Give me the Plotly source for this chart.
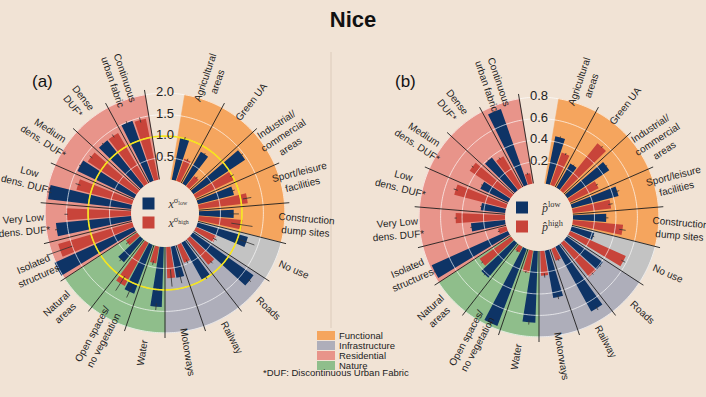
"""Nice: land-use polar bar charts, panels (a) and (b)."""

import math

import numpy as np
import plotly.graph_objects as go

W, H = 706, 397

# ---------------------------------------------------------------- data
categories = [
    "Agricultural<br>areas", "Green UA", "Industrial/<br>commercial<br>areas",
    "Sport/leisure<br>facilities", "Construction<br>dump sites", "No use",
    "Roads", "Railway", "Motorways", "Water", "Open spaces/<br>no vegetation",
    "Natural<br>areas", "Isolated<br>structures", "Very Low<br>dens. DUF*",
    "Low<br>dens. DUF*", "Medium<br>dens. DUF*", "Dense<br>DUF*",
    "Continuous<br>urban fabric",
]
groups = (["Functional"] * 5 + ["Infrastructure"] * 4
          + ["Nature"] * 3 + ["Residential"] * 6)
group_names = ["Functional", "Infrastructure", "Residential", "Nature"]

# panel (a): x^sigma_low / x^sigma_high
x_low = [1.01, 0.86, 1.45, 0.87, 0.81, 1.22, 1.73, 0.98, 0.74, 1.40, 1.22, 0.70,
         2.03, 1.76, 1.95, 1.47, 1.37, 1.49]
x_low_err = [0.03, 0.03, 0.04, 0.05, 0.12, 0.20, 0.04, 0.05, 0.15, 0.08, 0.15, 0.05,
             0.05, 0.04, 0.05, 0.03, 0.03, 0.04]
x_high = [0.55, 0.31, 0.99, 1.15, 1.02, 0.52, 0.78, 0.45, 0.73, 0.40, 1.15, 0.32,
          1.80, 1.51, 1.34, 1.37, 1.37, 1.45]
x_high_err = [0.03, 0.03, 0.05, 0.10, 0.25, 0.05, 0.04, 0.05, 0.20, 0.05, 0.20, 0.05,
              0.30, 0.04, 0.06, 0.04, 0.04, 0.06]

# panel (b): p_hat low / high
p_low = [0.45, 0.26, 0.47, 0.45, 0.31, 0.22, 0.41, 0.69, 0.45, 0.67, 0.77, 0.42,
         0.78, 0.32, 0.23, 0.29, 0.39, 0.75]
p_low_err = [0.01, 0.01, 0.01, 0.02, 0.02, 0.01, 0.01, 0.02, 0.02, 0.02, 0.02, 0.01,
             0.01, 0.01, 0.01, 0.01, 0.01, 0.01]
p_high = [0.32, 0.56, 0.30, 0.36, 0.47, 0.57, 0.41, 0.12, 0.23, 0.21, 0.06, 0.36,
          0.08, 0.46, 0.50, 0.46, 0.34, 0.10]
p_high_err = [0.01, 0.01, 0.01, 0.02, 0.03, 0.02, 0.01, 0.01, 0.02, 0.01, 0.01, 0.01,
              0.01, 0.01, 0.02, 0.01, 0.01, 0.01]

a_ticks = [0.5, 1.0, 1.5, 2.0]
b_ticks = [0.2, 0.4, 0.6, 0.8]

# ---------------------------------------------------------------- style
BG = "#f1e3d5"
BLUE = "#0e3466"
RED = "#c8443a"
GROUP_COLOR = {
    "Functional": "#f5a55e",
    "Infrastructure": "#aeaeba",
    "Residential": "#e8948a",
    "Nature": "#8fbe8b",
}
NO_USE_COLOR = "#c3c3c3"
FONT = "Liberation Sans, Arial, sans-serif"
SERIF = "Liberation Serif, DejaVu Serif, serif"

STEP = 360 / (len(categories) + 1)          # one empty slot for the gap at the top
THETA = [STEP * (i + 1) for i in range(len(categories))]
BOUNDS = [STEP * (i + 1.5) for i in range(len(categories))]
BAR_W = 7.0
OFFSET = 4.0
HOLE = 0.272
RAD_PX = 125
LABEL_PX = 141

sector_colors = [GROUP_COLOR[g] for g in groups]
sector_colors[categories.index("No use")] = NO_USE_COLOR


def domain(cx, cy):
    return dict(x=[(cx - RAD_PX) / W, (cx + RAD_PX) / W],
                y=[1 - (cy + RAD_PX) / H, 1 - (cy - RAD_PX) / H])


def to_paper(cx, cy, rpx, theta):
    t = math.radians(theta)
    return (cx + rpx * math.sin(t)) / W, 1 - (cy - rpx * math.cos(t)) / H


def err_lines(values, errs, shift):
    th, rr = [], []
    for t, v, e in zip(THETA, values, errs):
        th += [t + shift, t + shift, None]
        rr += [v - e, v + e, None]
    return th, rr


def add_panel(fig, sub, low, low_err, high, high_err, ring, ticks, rmax,
              names, legend_id, yellow=None):
    fig.add_trace(go.Barpolar(
        r=[ring] * len(THETA), theta=THETA, width=[STEP] * len(THETA),
        marker=dict(color=sector_colors, line=dict(width=0.6, color=sector_colors)),
        subplot=sub, showlegend=False, hoverinfo="skip"))
    circle = np.linspace(0, 360, 361)
    for t in ticks:
        fig.add_trace(go.Scatterpolar(
            r=[t] * len(circle), theta=circle, mode="lines",
            line=dict(color="rgba(255,255,255,0.75)", width=0.9),
            subplot=sub, showlegend=False, hoverinfo="skip"))
    if yellow is not None:
        fig.add_trace(go.Scatterpolar(
            r=[yellow] * len(circle), theta=circle, mode="lines",
            line=dict(color="#f6e51a", width=1.6),
            subplot=sub, showlegend=False, hoverinfo="skip"))
    fig.add_trace(go.Barpolar(
        r=low, theta=[t - OFFSET for t in THETA], width=[BAR_W] * len(THETA),
        marker=dict(color=BLUE, line=dict(width=0)), name=names[0],
        subplot=sub, legend=legend_id))
    fig.add_trace(go.Barpolar(
        r=high, theta=[t + OFFSET for t in THETA], width=[BAR_W] * len(THETA),
        marker=dict(color=RED, line=dict(width=0)), name=names[1],
        subplot=sub, legend=legend_id))
    for vals, errs, shift in ((low, low_err, -OFFSET), (high, high_err, OFFSET)):
        th, rr = err_lines(vals, errs, shift)
        fig.add_trace(go.Scatterpolar(
            r=rr, theta=th, mode="lines", line=dict(color="#333333", width=0.8),
            subplot=sub, showlegend=False, hoverinfo="skip"))
    th, rr = [], []
    for b in BOUNDS:
        th += [b, b, None]
        rr += [0, rmax, None]
    fig.add_trace(go.Scatterpolar(
        r=rr, theta=th, mode="lines", line=dict(color="#1e1e1e", width=0.9),
        subplot=sub, showlegend=False, hoverinfo="skip"))
    fig.add_trace(go.Scatterpolar(
        r=ticks, theta=[0] * len(ticks), mode="text",
        text=[f"{t:.1f}" for t in ticks],
        textfont=dict(size=13, color="#222222", family=FONT),
        subplot=sub, showlegend=False, hoverinfo="skip"))


fig = go.Figure()
CA = (165, 213)
CB = (539, 217)
add_panel(fig, "polar", x_low, x_low_err, x_high, x_high_err, 2.0, a_ticks, 2.12,
          ["<i>x</i><sup>σ<sub>low</sub></sup>", "<i>x</i><sup>σ<sub>high</sub></sup>"],
          "legend2", yellow=1.0)
add_panel(fig, "polar2", p_low, p_low_err, p_high, p_high_err, 0.8, b_ticks, 0.848,
          ["<i>p̂</i><sup>low</sup>", "<i>p̂</i><sup>high</sup>"], "legend3")

annotations = []
for cx, cy in (CA, CB):
    for name, th in zip(categories, THETA):
        ang = th - 90 if th < 180 else th - 270
        x, y = to_paper(cx, cy, LABEL_PX, th)
        annotations.append(dict(
            x=x, y=y, xref="paper", yref="paper", text=name, textangle=ang,
            showarrow=False, xanchor="center", yanchor="middle",
            font=dict(size=10, color="#1e1e1e", family=FONT)))

for txt, px in (("(a)", 29.5), ("(b)", 405)):
    annotations.append(dict(
        x=px / W, y=1 - 70 / H, xref="paper", yref="paper", text=txt,
        showarrow=False, font=dict(size=17, color="#111111", family=FONT)))

shapes = [dict(type="line", xref="paper", yref="paper", x0=331 / W, x1=331 / W,
               y0=1 - 52 / H, y1=1 - 328 / H, line=dict(color="#dccbbb", width=1))]
for i, g in enumerate(group_names):
    top = 331 + 10 * i
    shapes.append(dict(type="rect", xref="paper", yref="paper",
                       x0=317 / W, x1=335 / W, y0=1 - (top + 9) / H, y1=1 - top / H,
                       fillcolor=GROUP_COLOR[g], line=dict(width=0)))
    annotations.append(dict(
        x=337 / W, y=1 - (top + 4.5) / H, xref="paper", yref="paper", text=g,
        showarrow=False, xanchor="left", yanchor="middle",
        font=dict(size=9.5, color="#222222", family=FONT)))
annotations.append(dict(
    x=336 / W, y=1 - 380 / H, xref="paper", yref="paper",
    text="*DUF: Discontinuous Urban Fabric", showarrow=False,
    font=dict(size=9.5, color="#222222", family=FONT)))

polar_common = dict(
    hole=HOLE, bgcolor="rgba(0,0,0,0)",
    angularaxis=dict(rotation=90, direction="clockwise", visible=False),
)
hole_legend = dict(xanchor="center", yanchor="middle", bgcolor="rgba(0,0,0,0)",
                   font=dict(size=12, color="#333333", family=SERIF),
                   itemwidth=30, tracegroupgap=0)

fig.update_layout(
    width=W, height=H,
    margin=dict(l=0, r=0, t=0, b=0, pad=0, autoexpand=False),
    paper_bgcolor=BG, plot_bgcolor=BG,
    title=dict(text="<b>Nice</b>", x=0.5, xanchor="center", y=1 - 19 / H,
               yanchor="middle", font=dict(size=22, color="#111111", family=FONT)),
    polar=dict(domain=domain(*CA), radialaxis=dict(range=[0, 2.12], visible=False),
               **polar_common),
    polar2=dict(domain=domain(*CB), radialaxis=dict(range=[0, 0.848], visible=False),
                **polar_common),
    legend2=dict(x=(CA[0] - 3) / W, y=1 - CA[1] / H, **hole_legend),
    legend3=dict(x=(CB[0] - 3) / W, y=1 - CB[1] / H, **hole_legend),
    annotations=annotations,
    shapes=shapes,
    showlegend=True,
)

# the page body has a default 8px margin; drop it so the figure fills the window
fig.write_html("out.html", config={"displayModeBar": False},
               post_script="document.body.style.margin = '0';")
